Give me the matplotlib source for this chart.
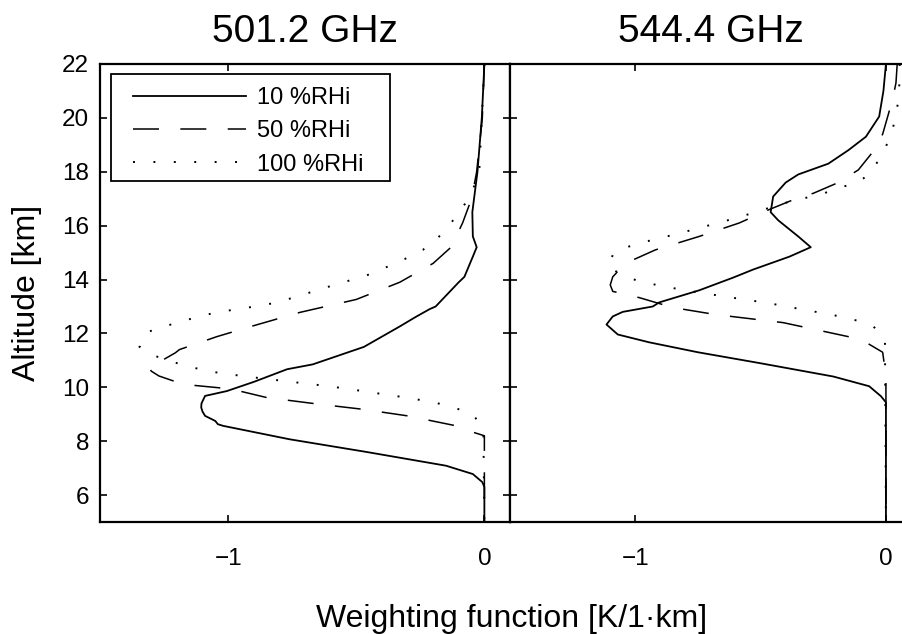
import matplotlib
matplotlib.use('Agg')
import matplotlib.pyplot as plt
from matplotlib.patches import Rectangle

plt.rcParams['font.family'] = ['Liberation Sans', 'DejaVu Sans']

# 501.2 GHz panel
alt_10_a = [22, 20, 18, 16.5, 15.6, 15.2, 14.85, 14.1, 13.9, 13.5, 13.0, 12.9, 12.6, 12.26, 11.5,
            10.85, 10.67, 10.2, 9.86, 9.68, 9.4, 9.25, 9.1, 8.94, 8.75, 8.63, 8.57, 8.07, 7.6,
            7.09, 6.78, 6.48, 6.3, 5]
wf_10_a = [0, -0.01, -0.027, -0.047, -0.045, -0.03, -0.045, -0.078, -0.1, -0.14, -0.19, -0.214,
           -0.27, -0.33, -0.47, -0.67, -0.77, -0.9, -1.005, -1.09, -1.104, -1.105, -1.1, -1.09,
           -1.05, -1.04, -1.02, -0.76, -0.46, -0.15, -0.045, -0.008, 0, 0]

alt_50_a = [22, 20, 18, 17, 16.1, 15.2, 14.6, 13.9, 13.26, 12.78, 12.26, 11.88, 11.4, 11.28,
            11.04, 10.85, 10.78, 10.6, 10.42, 10.11, 9.94, 9.62, 9.39, 9.19, 8.94, 8.57, 8.38,
            8.2, 5]
wf_50_a = [0, -0.008, -0.03, -0.05, -0.085, -0.13, -0.2, -0.33, -0.5, -0.72, -0.91, -1.044,
           -1.19, -1.206, -1.25, -1.28, -1.31, -1.3, -1.27, -1.175, -0.99, -0.85, -0.66, -0.48,
           -0.3, -0.11, -0.06, 0, 0]

alt_100_a = [22, 20, 18, 17.2, 16.67, 16.1, 15.56, 15.1, 14.84, 14.56, 14.27, 14.06, 13.88,
             13.67, 13.48, 13.28, 13.11, 12.99, 12.89, 12.79, 12.64, 12.46, 12.27, 12.05, 11.5,
             11.16, 10.95, 10.77, 10.6, 10.52, 10.42, 10.26, 10.11, 10.03, 9.93, 9.83, 9.73,
             9.64, 9.52, 9.39, 9.22, 8.98, 8.44, 5]
wf_100_a = [0, -0.01, -0.02, -0.05, -0.085, -0.13, -0.18, -0.24, -0.292, -0.36, -0.424, -0.49,
            -0.558, -0.63, -0.694, -0.763, -0.83, -0.902, -0.97, -1.04, -1.109, -1.176, -1.245,
            -1.315, -1.346, -1.284, -1.22, -1.15, -1.083, -1.02, -0.947, -0.805, -0.67, -0.6,
            -0.525, -0.455, -0.385, -0.32, -0.245, -0.175, -0.11, -0.043, -0.004, 0]

# 544.4 GHz panel
alt_10_b = [22, 21, 20.05, 19.3, 18.8, 18.3, 17.9, 17.6, 17.08, 16.5, 16.2, 15.6, 15.2, 14.85,
            14.37, 14.07, 13.6, 13.15, 13.0, 12.8, 12.63, 12.33, 11.96, 11.67, 11.3, 10.9, 10.4,
            10.04, 9.67, 9.44, 5]
wf_10_b = [0, -0.01, -0.027, -0.08, -0.15, -0.23, -0.35, -0.4, -0.45, -0.46, -0.43, -0.35, -0.3,
           -0.385, -0.53, -0.61, -0.745, -0.905, -0.93, -1.05, -1.09, -1.115, -1.07, -0.945,
           -0.75, -0.505, -0.21, -0.067, -0.02, 0, 0]

alt_50_b = [22, 21.3, 20.7, 19.4, 18.8, 18.07, 17.6, 17.2, 16.96, 16.6, 16.1, 15.6, 15.1, 14.6,
            14.1, 13.8, 13.56, 13.33, 12.96, 12.7, 12.4, 12.0, 11.78, 11.3, 10.4, 5]
wf_50_b = [0.045, 0.04, 0.027, -0.013, -0.047, -0.11, -0.19, -0.29, -0.37, -0.465, -0.585,
           -0.745, -0.92, -1.04, -1.09, -1.1, -1.09, -0.985, -0.85, -0.68, -0.41, -0.21, -0.1,
           -0.013, 0, 0]

alt_100_b = [22, 21.16, 20.5, 19.8, 19.19, 18.57, 17.98, 17.6, 17.4, 17.19, 16.85, 16.47, 16.28,
             16.1, 15.91, 15.58, 15.42, 15.23, 14.99, 14.47, 14.12, 13.91, 13.78, 13.65, 13.44,
             13.23, 13.13, 13.01, 12.89, 12.77, 12.64, 12.48, 12.27, 11.78, 5]
wf_100_b = [0.055, 0.053, 0.047, 0.033, 0.013, -0.02, -0.06, -0.11, -0.19, -0.25, -0.4, -0.532,
            -0.598, -0.672, -0.745, -0.882, -0.953, -1.024, -1.087, -1.107, -1.044, -0.975,
            -0.904, -0.831, -0.692, -0.545, -0.472, -0.402, -0.333, -0.262, -0.189, -0.117,
            -0.051, -0.004, 0]

titles = ['501.2 GHz', '544.4 GHz']
labels = ['10 %RHi', '50 %RHi', '100 %RHi']
yticks = [6, 8, 10, 12, 14, 16, 18, 20, 22]
xticks = [-1, 0]

W, H = 903, 634
fig = plt.figure(figsize=(W / 100, H / 100), dpi=100)
ax1 = fig.add_axes([100 / W, (H - 522) / H, 410 / W, 458 / H])
ax2 = fig.add_axes([510 / W, (H - 522) / H, 401 / W, 458 / H])

dash = (0, (17, 14))
dot = (0, (1, 9.5))

panels = [(ax1, [(alt_10_a, wf_10_a), (alt_50_a, wf_50_a), (alt_100_a, wf_100_a)]),
          (ax2, [(alt_10_b, wf_10_b), (alt_50_b, wf_50_b), (alt_100_b, wf_100_b)])]

for i, (ax, curves) in enumerate(panels):
    ax.plot(curves[0][1], curves[0][0], color='black', lw=1.3, label=labels[0])
    ax.plot(curves[1][1], curves[1][0], color='black', lw=1.1, linestyle=dash, label=labels[1])
    ax.plot(curves[2][1], curves[2][0], color='black', lw=1.4, linestyle=dot, label=labels[2])
    ax.set_xlim(-1.5, 0.1)
    ax.set_ylim(5, 22)
    ax.set_xticks(xticks)
    ax.set_yticks(yticks)
    ax.tick_params(direction='in', top=True, right=True, length=5, width=1.2,
                   labelsize=17.5, pad=19)
    ax.tick_params(axis='y', pad=8)
    for s in ax.spines.values():
        s.set_linewidth(1.6)
    ax.set_title(titles[i], fontsize=28, pad=16)

ax2.tick_params(labelleft=False)

ax1.set_ylabel('Altitude [km]', fontsize=23, labelpad=14)

fig.text(512 / W, (H - 627) / H, 'Weighting function [K/1\u00b7km]', fontsize=23,
         ha='center', va='baseline')

# legend entries without frame; the box is drawn separately (MATLAB-style wide padding)
leg = ax1.legend(loc='upper left', bbox_to_anchor=(133 / W, (H - 87) / H),
                 bbox_transform=fig.transFigure, borderaxespad=0, borderpad=0,
                 fontsize=17, handlelength=4.8, handletextpad=0.45, labelspacing=0.48,
                 frameon=False)
leg.set_zorder(6)
box = Rectangle((111 / W, (H - 181) / H), 279 / W, 107 / H, transform=fig.transFigure,
                facecolor='white', edgecolor='black', linewidth=1.3, zorder=5.5,
                clip_on=False)
ax1.add_patch(box)

fig.savefig('out.png', dpi=100)
